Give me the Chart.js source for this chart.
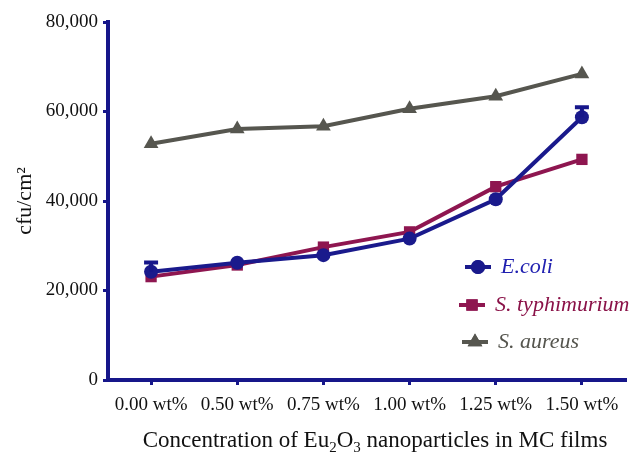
<!DOCTYPE html>
<html>
<head>
<meta charset="utf-8">
<script src="https://cdn.jsdelivr.net/npm/chart.js@4.4.1/dist/chart.umd.min.js"></script>
<style>
  html, body { margin: 0; padding: 0; background: #fff; }
  #wrap { position: relative; width: 643px; height: 452px; }
</style>
</head>
<body>
<div id="wrap"><canvas id="c" width="643" height="452"></canvas></div>
<script>
const categories = ['0.00 wt%', '0.50 wt%', '0.75 wt%', '1.00 wt%', '1.25 wt%', '1.50 wt%'];
const ecoli = [24200, 26200, 27900, 31600, 40400, 58700];
const ecoliErr = [2400, 0, 0, 0, 0, 2600];
const typhimurium = [23100, 25700, 29700, 33100, 43200, 49300];
const aureus = [52800, 56100, 56700, 60600, 63400, 68400];
const yTicks = [0, 20000, 40000, 60000, 80000];
// x title pieces: [text, isSubscript]
const xTitle = [['Concentration of Eu', false], ['2', true], ['O', false], ['3', true], [' nanoparticles in MC films', false]];

const navy = '#16168a';
const serif = '"Liberation Serif", "Times New Roman", serif';

// upward error caps (GraphPad style)
const errorBars = {
  id: 'errorBars',
  afterDatasetsDraw(chart) {
    const { ctx, scales: { x, y } } = chart;
    ctx.save();
    ctx.strokeStyle = navy;
    ctx.lineWidth = 4;
    ecoli.forEach((v, i) => {
      if (!ecoliErr[i]) return;
      const px = x.getPixelForValue(i);
      const top = y.getPixelForValue(v + ecoliErr[i]);
      ctx.beginPath();
      ctx.moveTo(px, y.getPixelForValue(v));
      ctx.lineTo(px, top);
      ctx.moveTo(px - 7, top + 1.5);
      ctx.lineTo(px + 7, top + 1.5);
      ctx.stroke();
    });
    ctx.restore();
  }
};

// x axis title with real subscripts
const xTitlePlugin = {
  id: 'xTitle',
  afterDraw(chart) {
    const { ctx } = chart;
    const big = '23px ' + serif, small = '15px ' + serif;
    ctx.save();
    ctx.fillStyle = '#111';
    ctx.textBaseline = 'alphabetic';
    let w = 0;
    xTitle.forEach(([t, sub]) => { ctx.font = sub ? small : big; w += ctx.measureText(t).width; });
    let cx = 375 - w / 2;
    const base = 447;
    xTitle.forEach(([t, sub]) => {
      ctx.font = sub ? small : big;
      ctx.fillText(t, cx, sub ? base + 5 : base);
      cx += ctx.measureText(t).width;
    });
    ctx.restore();
  }
};

// legend inside the plot, lower right
const insideLegend = {
  id: 'insideLegend',
  afterDraw(chart) {
    const { ctx } = chart;
    const rows = [
      { ds: 0, x: 478, y: 267, text: 'E.coli', color: '#2020b0' },
      { ds: 1, x: 472, y: 305, text: 'S. typhimurium', color: '#8a1248' },
      { ds: 2, x: 475, y: 342, text: 'S. aureus', color: '#55554e' }
    ];
    ctx.save();
    rows.forEach(r => {
      const d = chart.data.datasets[r.ds];
      ctx.strokeStyle = d.borderColor;
      ctx.lineWidth = 4;
      ctx.beginPath();
      ctx.moveTo(r.x - 13, r.y);
      ctx.lineTo(r.x + 13, r.y);
      ctx.stroke();
      ctx.fillStyle = d.backgroundColor;
      Chart.helpers.drawPoint(ctx, { pointStyle: d.pointStyle, radius: d.pointRadius, rotation: 0, borderWidth: 0 }, r.x, r.y);
      ctx.fill();
      ctx.fillStyle = r.color;
      ctx.font = 'italic 22px ' + serif;
      ctx.textBaseline = 'middle';
      ctx.fillText(r.text, r.x + 23, r.y);
    });
    ctx.restore();
  }
};

const mkSet = (label, data, color, style, radius) => ({
  label, data,
  borderColor: color,
  backgroundColor: color,
  borderWidth: 4,
  pointStyle: style,
  pointRadius: radius,
  pointHoverRadius: radius,
  pointBorderWidth: 0,
  tension: 0
});

new Chart(document.getElementById('c'), {
  type: 'line',
  data: {
    labels: categories,
    datasets: [
      mkSet('E.coli', ecoli, '#1a1a8c', 'circle', 7),
      mkSet('S. typhimurium', typhimurium, '#8e1650', 'rect', 8),
      mkSet('S. aureus', aureus, '#56564f', 'triangle', 8.5)
    ]
  },
  options: {
    responsive: false,
    animation: false,
    layout: { padding: { top: 22, right: 18, left: 0, bottom: 0 } },
    plugins: { legend: { display: false }, tooltip: { enabled: false } },
    scales: {
      x: {
        offset: true,
        border: { color: navy, width: 4 },
        grid: { drawOnChartArea: false, drawTicks: true, tickLength: 5, color: navy, lineWidth: 3, offset: false },
        ticks: { color: '#111', font: { family: serif, size: 19 }, padding: 9, maxRotation: 0, autoSkip: false },
        title: { display: false },
        afterFit: s => { s.height = 72; }
      },
      y: {
        min: 0, max: 80000,
        border: { color: navy, width: 4 },
        grid: { drawOnChartArea: false, drawTicks: true, tickLength: 5, color: navy, lineWidth: 3 },
        afterBuildTicks: s => { s.ticks = yTicks.map(v => ({ value: v })); },
        ticks: {
          color: '#111',
          font: { family: serif, size: 19 },
          padding: 5,
          callback: v => v.toLocaleString('en-US')
        },
        title: {
          display: true,
          text: 'cfu/cm\u00B2',
          color: '#111',
          font: { family: serif, size: 22 },
          padding: { top: 12, bottom: 0 }
        },
        afterFit: s => { s.width = 108; }
      }
    }
  },
  plugins: [errorBars, xTitlePlugin, insideLegend]
});
</script>
</body>
</html>
